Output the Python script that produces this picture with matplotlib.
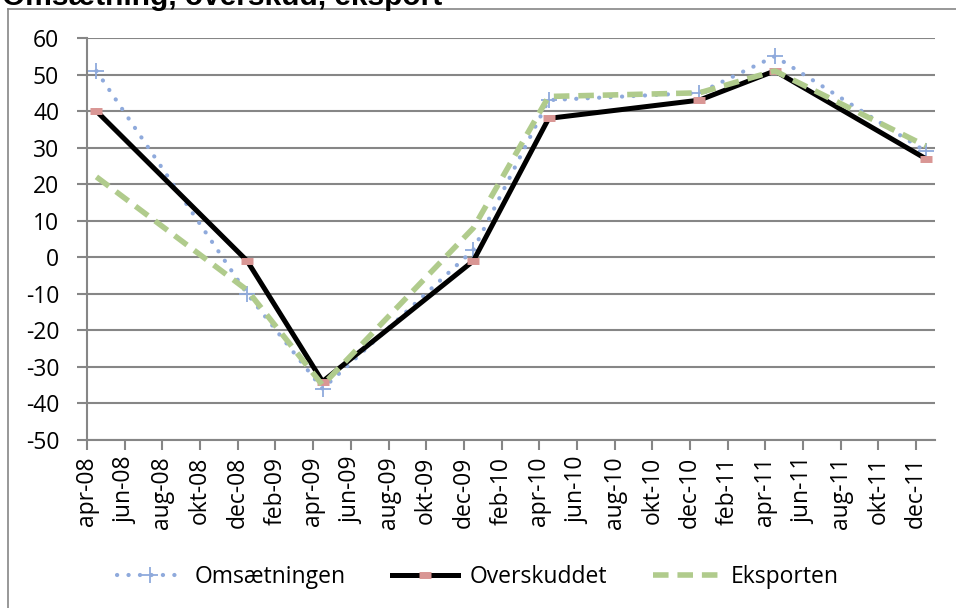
import matplotlib.pyplot as plt
from matplotlib.lines import Line2D

# months counted from apr-08; data points sit mid-month
tick_labels = ['apr-08', 'jun-08', 'aug-08', 'okt-08', 'dec-08', 'feb-09', 'apr-09', 'jun-09',
               'aug-09', 'okt-09', 'dec-09', 'feb-10', 'apr-10', 'jun-10', 'aug-10', 'okt-10',
               'dec-10', 'feb-11', 'apr-11', 'jun-11', 'aug-11', 'okt-11', 'dec-11']
point_months = [0, 8, 12, 20, 24, 32, 36, 44]

omsaetning = [51, -10, -36, 2, 43, 45, 55, 29]
overskud = [40, -1, -34, -1, 38, 43, 51, 27]
eksport = [22, -9, -35, 8, 44, 45, 51, 30.5]

plt.rcParams['font.family'] = ['Open Sans', 'DejaVu Sans']
plt.rcParams['axes.unicode_minus'] = False

fig = plt.figure(figsize=(9.56, 6.08), dpi=100)
ax = fig.add_axes([87 / 956, 1 - 440 / 608, (935 - 87) / 956, (440 - 38) / 608])

x = [m + 0.5 for m in point_months]
blue = '#8faadc'
green = '#b0cb8c'
pink = '#d99694'
grey = '#868686'

dotted = (0, (0.05, 2.7))
dashed = (0, (2.8, 1.6))

ax.plot(x, omsaetning, color=blue, lw=3.0, linestyle=dotted, dash_capstyle='round',
        marker='+', markersize=12, markeredgewidth=1.3, markeredgecolor=blue, zorder=3)
ax.plot(x, overskud, color='black', lw=3.6, solid_capstyle='round', zorder=4)
ax.plot(x, overskud, linestyle='none', marker='_', markersize=9, markeredgewidth=5,
        markeredgecolor=pink, zorder=5)
ax.plot(x, eksport, color=green, lw=4, linestyle=dashed, zorder=6)

ax.set_xlim(0, 45)
ax.set_ylim(-50, 60)
ax.set_yticks(range(-50, 61, 10))
ax.set_xticks(range(0, 45, 2))
ax.set_xticklabels(tick_labels, rotation=90)
ax.tick_params(axis='both', labelsize=16.5, color=grey, width=1.5, length=7)
ax.tick_params(axis='x', pad=5)
ax.tick_params(axis='y', pad=13)
ax.grid(axis='y', color=grey, lw=1.5, zorder=0)
ax.set_axisbelow(True)
for s in ['top', 'right']:
    ax.spines[s].set_visible(False)
for s in ['left', 'bottom']:
    ax.spines[s].set_color(grey)
    ax.spines[s].set_linewidth(1.5)

# chart border (only top and left show inside the picture)
fig.add_artist(Line2D([8 / 956, 1], [1 - 9 / 608, 1 - 9 / 608], transform=fig.transFigure,
                      color=grey, lw=1.2))
fig.add_artist(Line2D([8 / 956, 8 / 956], [0, 1 - 9 / 608], transform=fig.transFigure,
                      color=grey, lw=1.2))

fig.text(2 / 956, 1.0 - 5 / 608, 'Omsætning, overskud, eksport', fontsize=21.5, fontweight='bold',
         family='Liberation Sans', va='baseline', ha='left')

handles = [
    Line2D([], [], color=blue, lw=3.0, linestyle=dotted, dash_capstyle='round',
           marker='+', markersize=12, markeredgewidth=1.3),
    Line2D([], [], color='black', lw=3.6, marker='_', markersize=9, markeredgewidth=5,
           markeredgecolor=pink),
    Line2D([], [], color=green, lw=4, linestyle=dashed),
]
fig.legend(handles, ['Omsætningen', 'Overskuddet', 'Eksporten'], loc='center',
           bbox_to_anchor=(0.5, 1 - 577 / 608), ncol=3, frameon=False, fontsize=16.5,
           handlelength=2.9, columnspacing=2.0, handletextpad=0.5)

fig.savefig('out.png', dpi=100)
